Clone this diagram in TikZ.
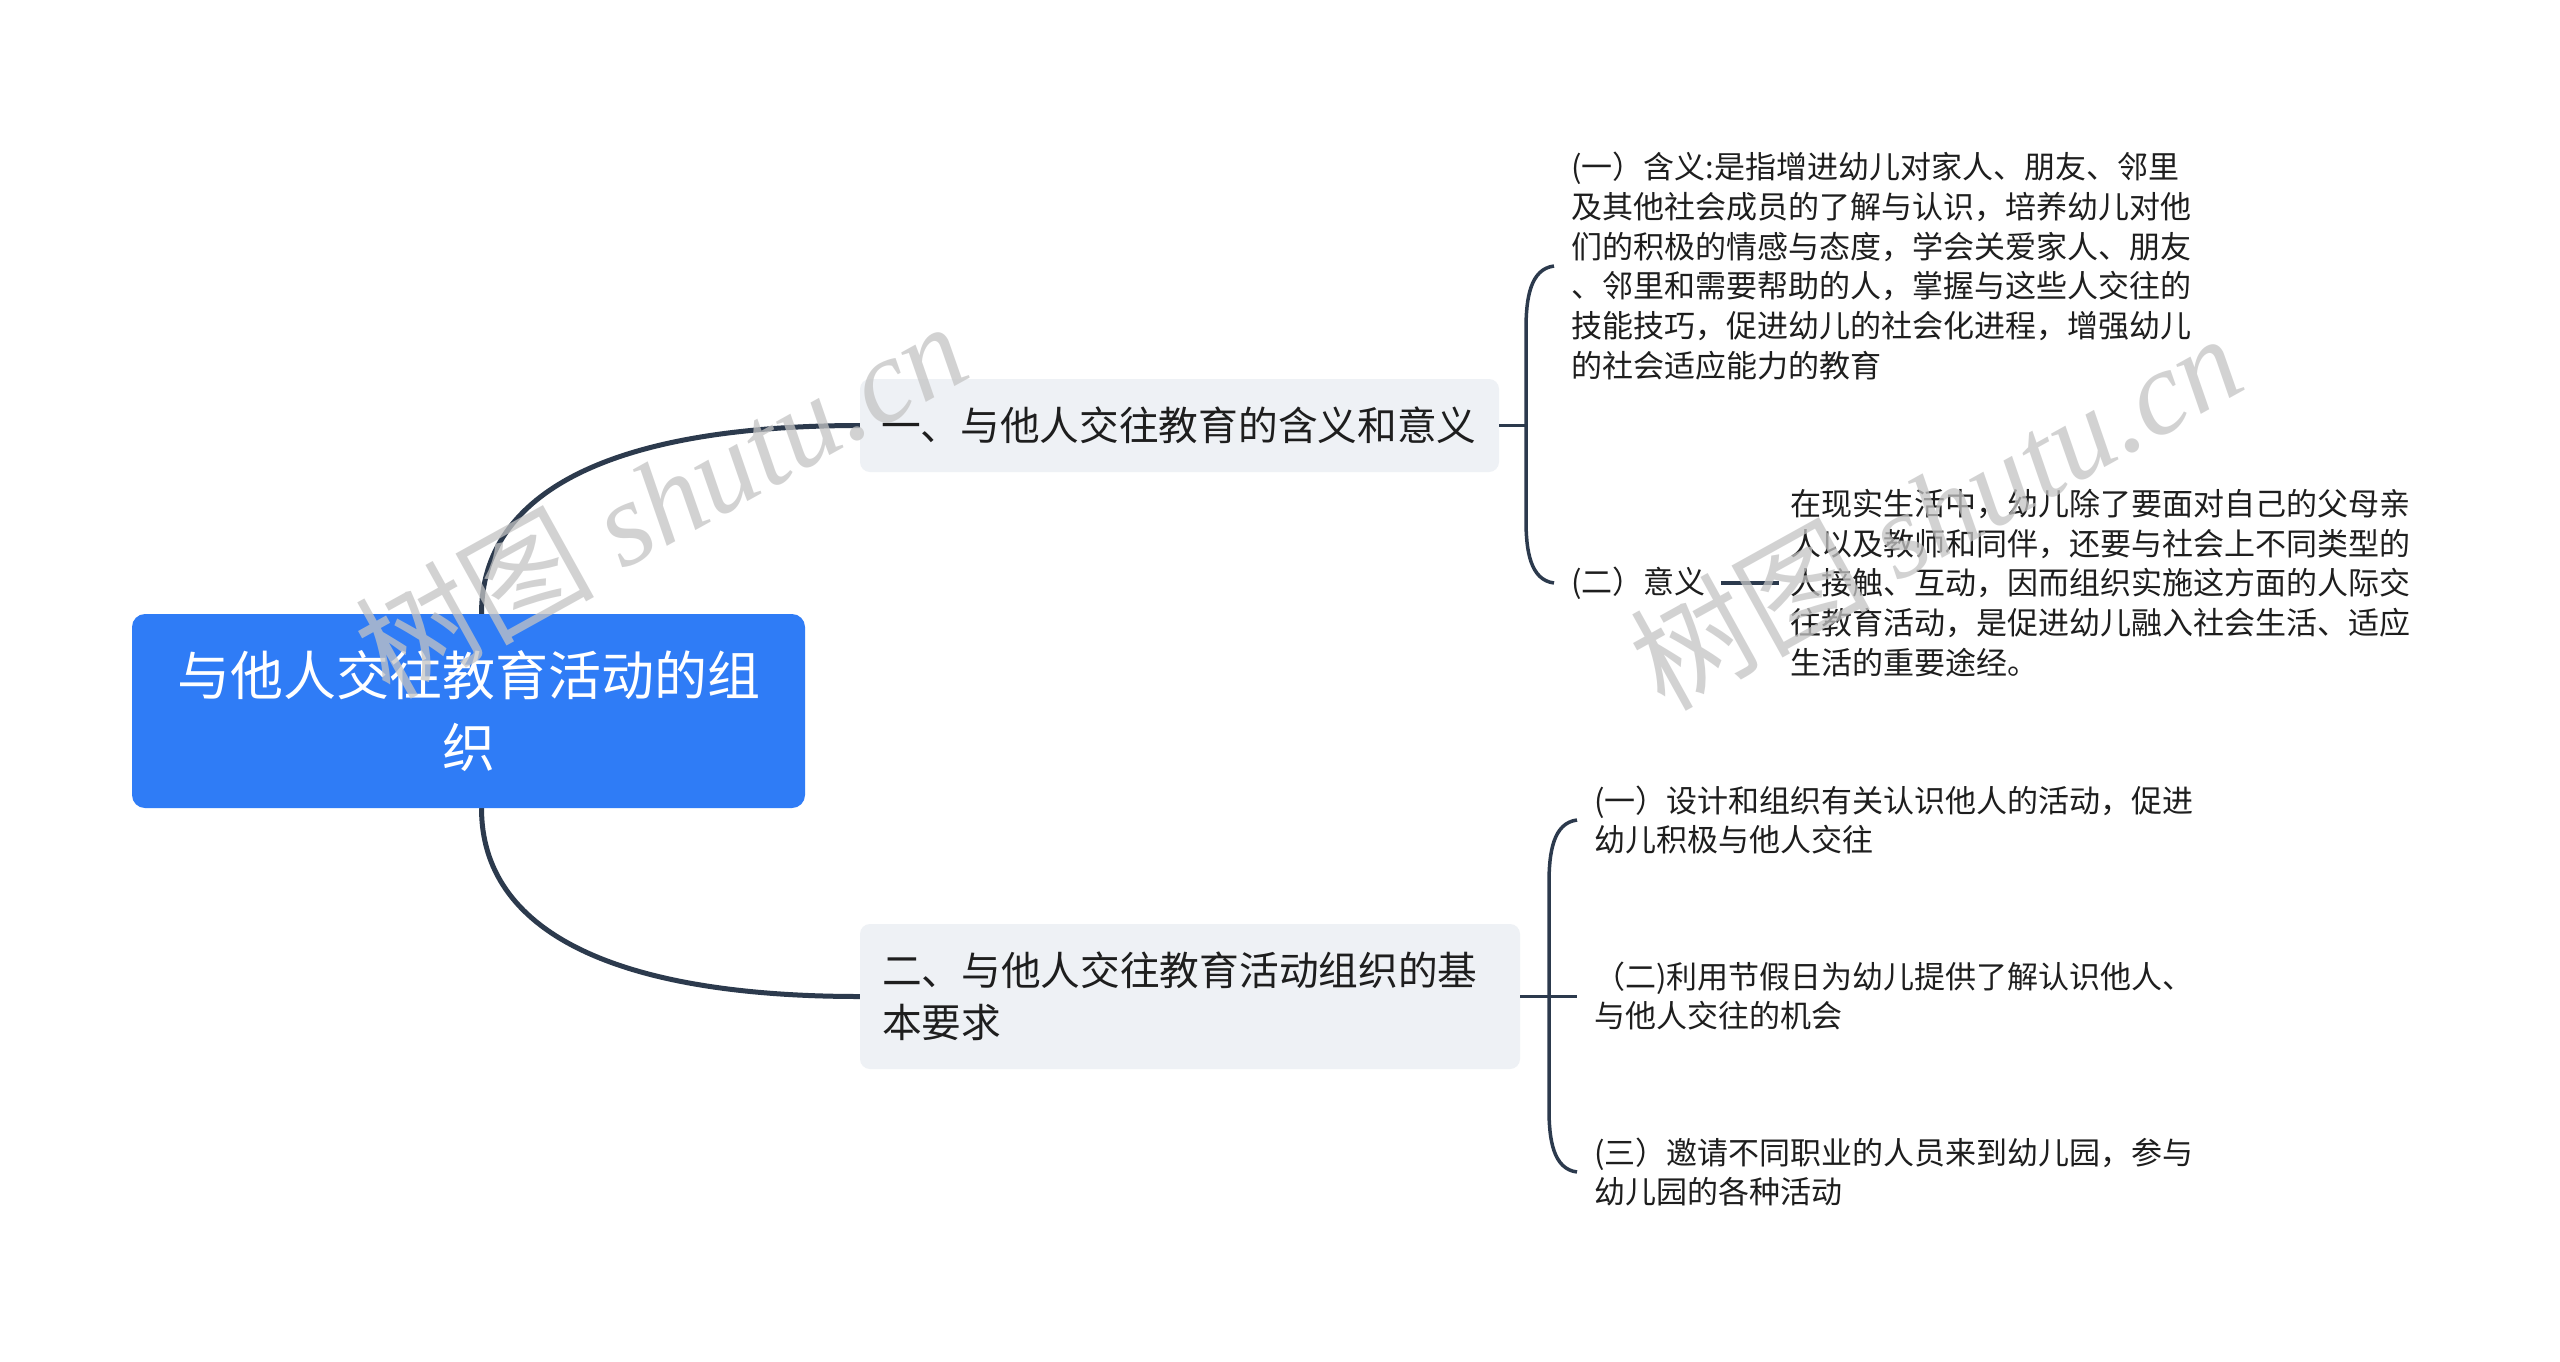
\documentclass[tikz,border=0pt]{standalone}
\usepackage{fontspec}
\setmainfont{Noto Sans CJK SC}
\newfontfamily\wmserif{Liberation Serif}
\usetikzlibrary{calc}
\definecolor{rootblue}{HTML}{2F7CF6}
\definecolor{brgray}{HTML}{EEF1F5}
\definecolor{linec}{HTML}{2C3A4D}
\definecolor{txt}{HTML}{1E1E1E}
\definecolor{wmc}{HTML}{C4C4C4}
\pgfdeclarelayer{bg}
\pgfdeclarelayer{fg}
\pgfsetlayers{bg,main,fg}
\tikzset{
  rootbox/.style={fill=rootblue, rounded corners=13pt, text=white, align=center,
    font=\fontsize{53}{72}\selectfont, inner sep=0pt},
  brbox/.style={fill=brgray, rounded corners=10pt, text=txt, align=left,
    font=\fontsize{39.7}{52}\selectfont, inner ysep=0pt},
  leaf/.style={anchor=west, inner sep=0pt, align=left, text=txt,
    font=\fontsize{31}{39.8}\selectfont},
  mainlink/.style={draw=linec, line width=5pt},
  brace/.style={draw=linec, line width=3.5pt},
  wm/.style={text=wmc, opacity=0.75, rotate=29, inner sep=0pt,
    font=\fontsize{120}{140}\selectfont}
}
\begin{document}
\begin{tikzpicture}[x=1pt,y=-1pt]
\useasboundingbox (0,0) rectangle (2560,1361);

% root
\node[rootbox, minimum width=673pt, minimum height=194pt] (root) at (468.5,711)
  {与他人交往教育活动的组\\织};

% branches
\node[brbox, text width=597pt, inner xsep=21pt, minimum height=93pt] (br1) at (1179.5,425.5)
  {一、与他人交往教育的含义和意义};
\node[brbox, text width=616pt, inner xsep=22pt, minimum height=145pt] (br2) at (1190,996.5)
  {二、与他人交往教育活动组织的基\\本要求};

% leaves of branch 1
\node[leaf] (l1a) at (1571,266)
  {(一）含义:是指增进幼儿对家人、朋友、邻里\\及其他社会成员的了解与认识，培养幼儿对他\\们的积极的情感与态度，学会关爱家人、朋友\\、邻里和需要帮助的人，掌握与这些人交往的\\技能技巧，促进幼儿的社会化进程，增强幼儿\\的社会适应能力的教育};
\node[leaf] (l1b) at (1571,583) {(二）意义};
\node[leaf] (l1c) at (1790,583)
  {在现实生活中，幼儿除了要面对自己的父母亲\\人以及教师和同伴，还要与社会上不同类型的\\人接触、互动，因而组织实施这方面的人际交\\往教育活动，是促进幼儿融入社会生活、适应\\生活的重要途经。};

% leaves of branch 2
\node[leaf] (l2a) at (1594,820)
  {(一）设计和组织有关认识他人的活动，促进\\幼儿积极与他人交往};
\node[leaf] (l2b) at (1594,996)
  {（二)利用节假日为幼儿提供了解认识他人、\\与他人交往的机会};
\node[leaf] (l2c) at (1594,1172)
  {(三）邀请不同职业的人员来到幼儿园，参与\\幼儿园的各种活动};

% connectors (behind the boxes)
\begin{pgfonlayer}{bg}
\fill[white] (0,0) rectangle (2560,1361);
\draw[mainlink] ([xshift=13pt]root.north) .. controls +(0,-123) and +(-246,0) .. (br1.west);
\draw[mainlink] ([xshift=13pt]root.south) .. controls +(0,123) and +(-246,0) .. (br2.west);
\end{pgfonlayer}

% bracket 1
\path (l1a.west) ++(-17,0) coordinate (b1t);
\path (l1b.west) ++(-17,0) coordinate (b1b);
\draw[brace] (b1t) .. controls +(-24,3) and +(0,-30) .. ($(b1t)+(-28,63)$)
  -- ($(b1b)+(-28,-63)$) .. controls +(0,30) and +(-24,-3) .. (b1b);
\draw[brace] (br1.east) -- ($(br1.east -| b1t)+(-28,0)$);
\draw[brace] ([xshift=15pt]l1b.east) -- ([xshift=-11pt]l1c.west);

% bracket 2
\path (l2a.west) ++(-17,0) coordinate (b2t);
\path (l2c.west) ++(-17,0) coordinate (b2b);
\draw[brace] (b2t) .. controls +(-24,3) and +(0,-30) .. ($(b2t)+(-28,63)$)
  -- ($(b2b)+(-28,-63)$) .. controls +(0,30) and +(-24,-3) .. (b2b);
\draw[brace] (br2.east) -- (br2.east -| b2t);

% watermarks
\begin{pgfonlayer}{fg}
\node[wm] (wm1) at (660,498) {树图 {\wmserif\itshape shutu.cn}};
\node[wm] (wm2) at (1935,510) {树图 {\wmserif\itshape shutu.cn}};
\end{pgfonlayer}
\end{tikzpicture}
\end{document}
